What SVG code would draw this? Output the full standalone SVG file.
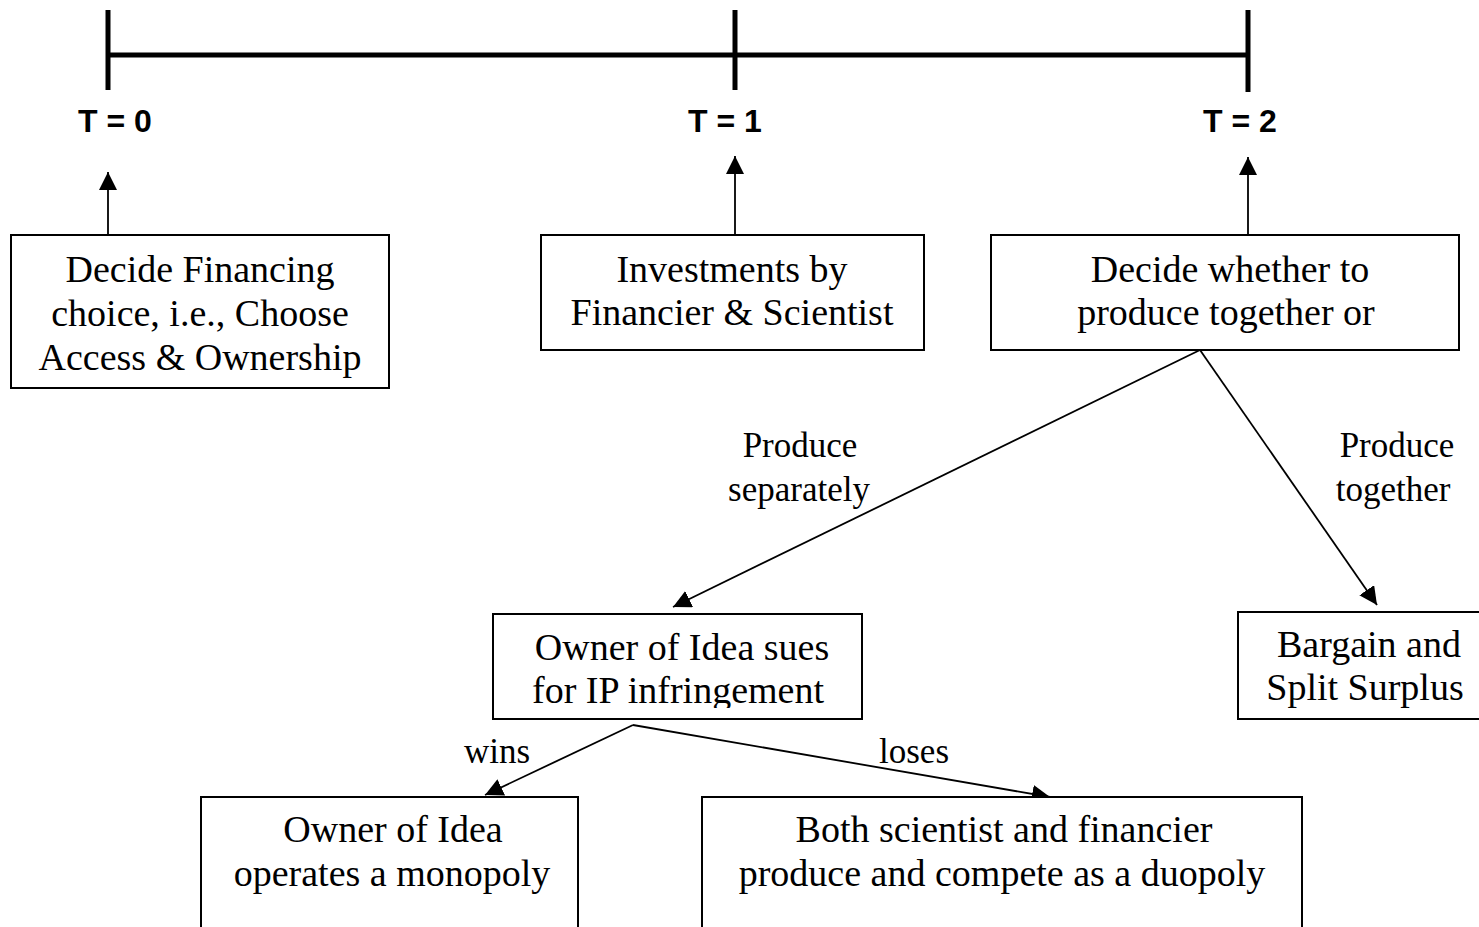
<svg xmlns="http://www.w3.org/2000/svg" width="1479" height="927" viewBox="0 0 1479 927">
<style>
.bg{fill:#fff}
.box{fill:#fff;stroke:#000;stroke-width:2}
.tl{stroke:#000;stroke-width:5;fill:none}
.con{stroke:#000;stroke-width:1.8;fill:none;marker-end:url(#ah)}
.t{font-family:"Liberation Serif","Times New Roman",serif;font-size:38px;fill:#000;text-anchor:middle}
.lbl{font-family:"Liberation Serif","Times New Roman",serif;font-size:35px;fill:#000;text-anchor:middle}
.tt{font-family:"Liberation Sans",Arial,sans-serif;font-size:32px;font-weight:bold;fill:#000;text-anchor:middle}
</style>
<defs>
<marker id="ah" markerUnits="userSpaceOnUse" markerWidth="18" markerHeight="18" viewBox="0 0 16 16" refX="16" refY="8" orient="auto">
<path d="M0,0 L16,8 L0,16 Z" fill="#000"/>
</marker>
<clipPath id="clip4"><rect x="493" y="614" width="369" height="94"/></clipPath>
</defs>
<rect class="bg" x="0" y="0" width="1479" height="927"/>
<g id="timeline">
<line class="tl" x1="108" y1="55" x2="1248" y2="55"/>
<line class="tl" x1="108" y1="10" x2="108" y2="90"/>
<line class="tl" x1="735" y1="10" x2="735" y2="90"/>
<line class="tl" x1="1248" y1="10" x2="1248" y2="92"/>
<text class="tt" x="115" y="132">T = 0</text>
<text class="tt" x="725" y="132">T = 1</text>
<text class="tt" x="1240" y="132">T = 2</text>
</g>
<g id="connectors">
<line class="con" x1="108" y1="235" x2="108" y2="172"/>
<line class="con" x1="735" y1="235" x2="735" y2="156"/>
<line class="con" x1="1248" y1="235" x2="1248" y2="157"/>
<line class="con" x1="1200" y1="350" x2="673" y2="607"/>
<line class="con" x1="1200" y1="350" x2="1377" y2="605"/>
<line class="con" x1="633" y1="725" x2="485" y2="795"/>
<line class="con" x1="633" y1="725" x2="1050" y2="797"/>
<text class="lbl" x="800" y="457">Produce</text>
<text class="lbl" x="799" y="501">separately</text>
<text class="lbl" x="1397" y="457">Produce</text>
<text class="lbl" x="1393" y="501">together</text>
<text class="lbl" x="497" y="763">wins</text>
<text class="lbl" x="914" y="763">loses</text>
</g>
<g id="node-financing">
<rect class="box" x="11" y="235" width="378" height="153"/>
<text class="t" x="200" y="282">Decide Financing</text>
<text class="t" x="200" y="326">choice, i.e., Choose</text>
<text class="t" x="200" y="370">Access &amp; Ownership</text>
</g>
<g id="node-investments">
<rect class="box" x="541" y="235" width="383" height="115"/>
<text class="t" x="732" y="282">Investments by</text>
<text class="t" x="732" y="325">Financier &amp; Scientist</text>
</g>
<g id="node-decide">
<rect class="box" x="991" y="235" width="468" height="115"/>
<text class="t" x="1230" y="282">Decide whether to</text>
<text class="t" x="1226" y="325">produce together or</text>
</g>
<g id="node-sues">
<rect class="box" x="493" y="614" width="369" height="105"/>
<g clip-path="url(#clip4)">
<text class="t" x="682" y="660">Owner of Idea sues</text>
<text class="t" x="678" y="703">for IP infringement</text>
</g>
</g>
<g id="node-bargain">
<rect class="box" x="1238" y="612" width="260" height="107"/>
<text class="t" x="1369" y="657">Bargain and</text>
<text class="t" x="1365" y="700">Split Surplus</text>
</g>
<g id="node-monopoly">
<rect class="box" x="201" y="797" width="377" height="150"/>
<text class="t" x="393" y="842">Owner of Idea</text>
<text class="t" x="392" y="886">operates a monopoly</text>
</g>
<g id="node-duopoly">
<rect class="box" x="702" y="797" width="600" height="150"/>
<text class="t" x="1004" y="842">Both scientist and financier</text>
<text class="t" x="1002" y="886">produce and compete as a duopoly</text>
</g>
</svg>
